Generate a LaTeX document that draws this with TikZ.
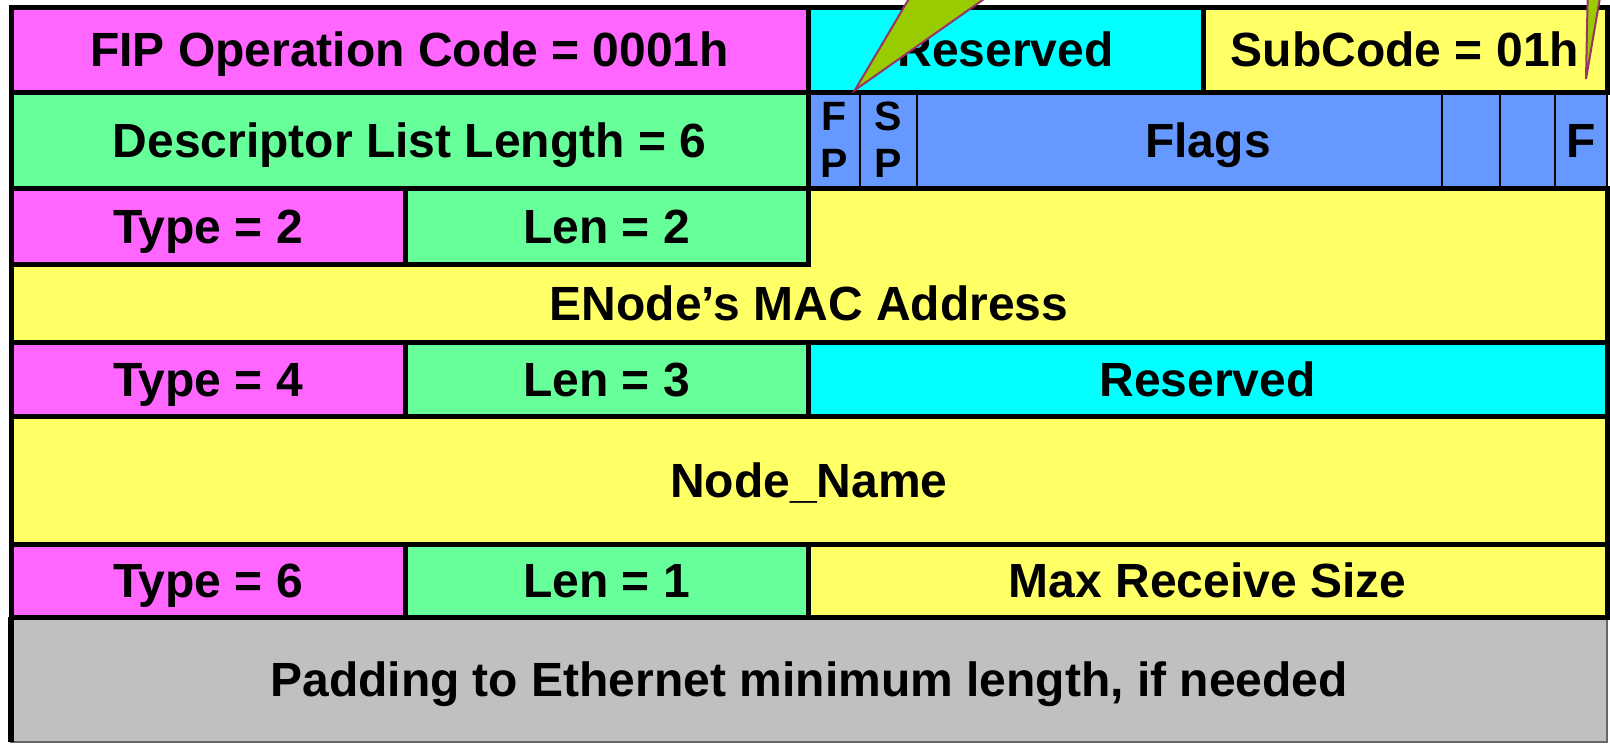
\documentclass[tikz,border=0pt]{standalone}
\usepackage{fontspec}
\setmainfont{Liberation Sans}
\definecolor{pinkc}{HTML}{FF66FF}
\definecolor{greenc}{HTML}{66FF99}
\definecolor{cyanc}{HTML}{00FFFF}
\definecolor{yellowc}{HTML}{FFFF66}
\definecolor{bluec}{HTML}{6699FF}
\definecolor{grayc}{HTML}{C0C0C0}
\definecolor{calloutg}{HTML}{99CC00}
\definecolor{calloutp}{HTML}{993366}
\newcommand\cellbox[8][]{%
  \node[cell,#1,fill=#7,minimum width={#4pt-#2pt},minimum height={#5pt-#3pt}] (#6) at ({(#2+#4)/2},{(#3+#5)/2}) {#8};}
\begin{document}
\begin{tikzpicture}[x=1pt,y=-1pt,
  cell/.style={draw=black,line width=5pt,inner sep=0pt,outer sep=0pt,
    font=\fontsize{48}{52}\selectfont\bfseries,text height=34.5pt,text depth=0pt},
  thincell/.style={line width=2.5pt},
  lbl/.style={inner sep=0pt,font=\fontsize{48}{52}\selectfont\bfseries,text height=34.5pt,text depth=0pt},
  small/.style={inner sep=0pt,anchor=base,font=\fontsize{41}{46}\selectfont\bfseries},
  callout/.style={fill=calloutg,draw=calloutp,line width=2pt,line join=miter}]
\useasboundingbox (0,0) rectangle (1610,744);
\fill[white] (0,0) rectangle (1610,744);
\clip (0,0) rectangle (1610,744);
% padding row
\cellbox[draw=gray!80!black,line width=1.5pt]{11}{617}{1607}{742}{pad}{grayc}{Padding to Ethernet minimum length, if needed}
\draw[line width=6pt] (11,617) -- (11,742);
% row 1
\cellbox{11}{7}{808}{92}{opc}{pinkc}{FIP Operation Code = 0001h}
\cellbox{808}{7}{1203}{92}{resA}{cyanc}{Reserved}
\cellbox{1203}{7}{1607}{92}{sub}{yellowc}{SubCode = 01h}
% row 2
\cellbox{11}{92}{808}{188}{dll}{greenc}{Descriptor List Length = 6}
\cellbox[thincell]{808}{92}{860}{188}{fp}{bluec}{}
\cellbox[thincell]{860}{92}{917}{188}{sp}{bluec}{}
\cellbox[thincell]{917}{92}{1442}{188}{flg}{bluec}{}
\cellbox[thincell]{1442}{92}{1500}{188}{bA}{bluec}{}
\cellbox[thincell]{1500}{92}{1555}{188}{bB}{bluec}{}
\cellbox[thincell]{1555}{92}{1607}{188}{fl}{bluec}{F}
\draw[line width=5pt] (808,92) -- (1607,92) (808,188) -- (1607,188) (808,92) -- (808,188);
\node[small] (fpF) at (834,130) {F};
\node[small] (fpP) at (834,177) {P};
\node[small] (spS) at (888.5,130) {S};
\node[small] (spP) at (888.5,177) {P};
\node[lbl] (flgt) at (1208,140) {Flags};
% row 3 and 4
\path[fill=yellowc,draw=black,line width=5pt] (808,188) -- (1607,188) -- (1607,342) -- (11,342) -- (11,264) -- (808,264) -- cycle;
\cellbox{11}{188}{405}{264}{tA}{pinkc}{Type = 2}
\cellbox{405}{188}{808}{264}{lA}{greenc}{Len = 2}
\node[lbl] (mac) at (809,303) {ENode’s MAC Address};
% row 5
\cellbox{11}{342}{405}{416}{tB}{pinkc}{Type = 4}
\cellbox{405}{342}{808}{416}{lB}{greenc}{Len = 3}
\cellbox{808}{342}{1607}{416}{resB}{cyanc}{Reserved}
% row 6
\cellbox{11}{416}{1607}{544}{nn}{yellowc}{Node\_Name}
% row 7
\cellbox{11}{544}{405}{617}{tC}{pinkc}{Type = 6}
\cellbox{405}{544}{808}{617}{lC}{greenc}{Len = 1}
\cellbox{808}{544}{1607}{617}{mrs}{yellowc}{Max Receive Size}
% callouts
\coordinate (tipA) at (855,90);
\coordinate (tipB) at (1586,79);
\path[callout] (tipA) -- (920,-20) -- (1011,-20) -- cycle;
\path[callout] (tipB) -- (1588,-20) -- (1603,-20) -- cycle;
\end{tikzpicture}
\end{document}
